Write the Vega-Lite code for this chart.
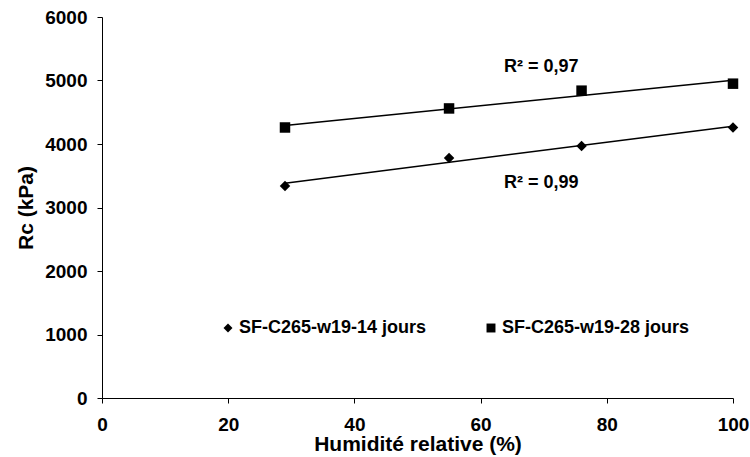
{
  "$schema": "https://vega.github.io/schema/vega-lite/v6.json",
  "width": 631,
  "height": 381,
  "autosize": {"type": "none"},
  "padding": {"left": 102, "top": 17, "right": 17, "bottom": 59},
  "background": "white",
  "config": {
    "view": {"stroke": null},
    "font": "Liberation Sans",
    "axis": {
      "grid": false,
      "domainColor": "black",
      "domainWidth": 1,
      "tickColor": "black",
      "tickWidth": 1,
      "tickSize": 5,
      "labelColor": "black",
      "labelFont": "Liberation Sans",
      "labelFontWeight": "bold",
      "labelFontSize": 19,
      "titleColor": "black",
      "titleFont": "Liberation Sans",
      "titleFontWeight": "bold",
      "titleFontSize": 21,
      "labelOverlap": false,
      "labelFlush": false
    }
  },
  "datasets": {
    "pts": [
      {"hr": 29, "rc": 3340, "serie": "SF-C265-w19-14 jours"},
      {"hr": 55, "rc": 3780, "serie": "SF-C265-w19-14 jours"},
      {"hr": 76, "rc": 3970, "serie": "SF-C265-w19-14 jours"},
      {"hr": 100, "rc": 4260, "serie": "SF-C265-w19-14 jours"},
      {"hr": 29, "rc": 4260, "serie": "SF-C265-w19-28 jours"},
      {"hr": 55, "rc": 4560, "serie": "SF-C265-w19-28 jours"},
      {"hr": 76, "rc": 4840, "serie": "SF-C265-w19-28 jours"},
      {"hr": 100, "rc": 4950, "serie": "SF-C265-w19-28 jours"}
    ],
    "labels": [
      {"hr": 69.6, "rc": 5213, "label": "R² = 0,97"},
      {"hr": 69.6, "rc": 3386, "label": "R² = 0,99"}
    ]
  },
  "layer": [
    {
      "data": {"name": "pts"},
      "transform": [{"regression": "rc", "on": "hr", "groupby": ["serie"]}],
      "mark": {"type": "line", "color": "black", "strokeWidth": 1.5},
      "encoding": {
        "x": {
          "field": "hr", "type": "quantitative",
          "scale": {"domain": [0, 100], "nice": false, "zero": false},
          "axis": {"values": [0, 20, 40, 60, 80, 100], "labelPadding": 12, "titlePadding": -1, "title": "Humidité relative (%)"}
        },
        "y": {
          "field": "rc", "type": "quantitative",
          "scale": {"domain": [0, 6000], "nice": false},
          "axis": {"values": [0, 1000, 2000, 3000, 4000, 5000, 6000], "format": "d", "labelPadding": 10, "titlePadding": 8, "title": "Rᴄ (kPa)"}
        },
        "detail": {"field": "serie"}
      }
    },
    {
      "data": {"name": "pts"},
      "mark": {"type": "point", "filled": true, "opacity": 1, "color": "black", "size": 110},
      "encoding": {
        "x": {"field": "hr", "type": "quantitative"},
        "y": {"field": "rc", "type": "quantitative"},
        "shape": {
          "field": "serie", "type": "nominal",
          "scale": {"domain": ["SF-C265-w19-14 jours", "SF-C265-w19-28 jours"], "range": ["diamond", "square"]},
          "legend": {
            "title": null,
            "orient": "none",
            "legendX": 117,
            "legendY": 302,
            "direction": "horizontal",
            "labelFont": "Liberation Sans",
            "labelFontWeight": "bold",
            "labelFontSize": 18,
            "labelColor": "black",
            "symbolSize": 80,
            "symbolFillColor": "black",
            "symbolStrokeColor": "black",
            "symbolOpacity": 1,
            "columnPadding": 55,
            "labelOffset": 2,
            "labelLimit": 400
          }
        }
      }
    },
    {
      "data": {"name": "labels"},
      "mark": {"type": "text", "font": "Liberation Sans", "fontWeight": "bold", "fontSize": 18, "color": "black", "align": "center", "baseline": "middle"},
      "encoding": {
        "x": {"field": "hr", "type": "quantitative"},
        "y": {"field": "rc", "type": "quantitative"},
        "text": {"field": "label"}
      }
    }
  ]
}
